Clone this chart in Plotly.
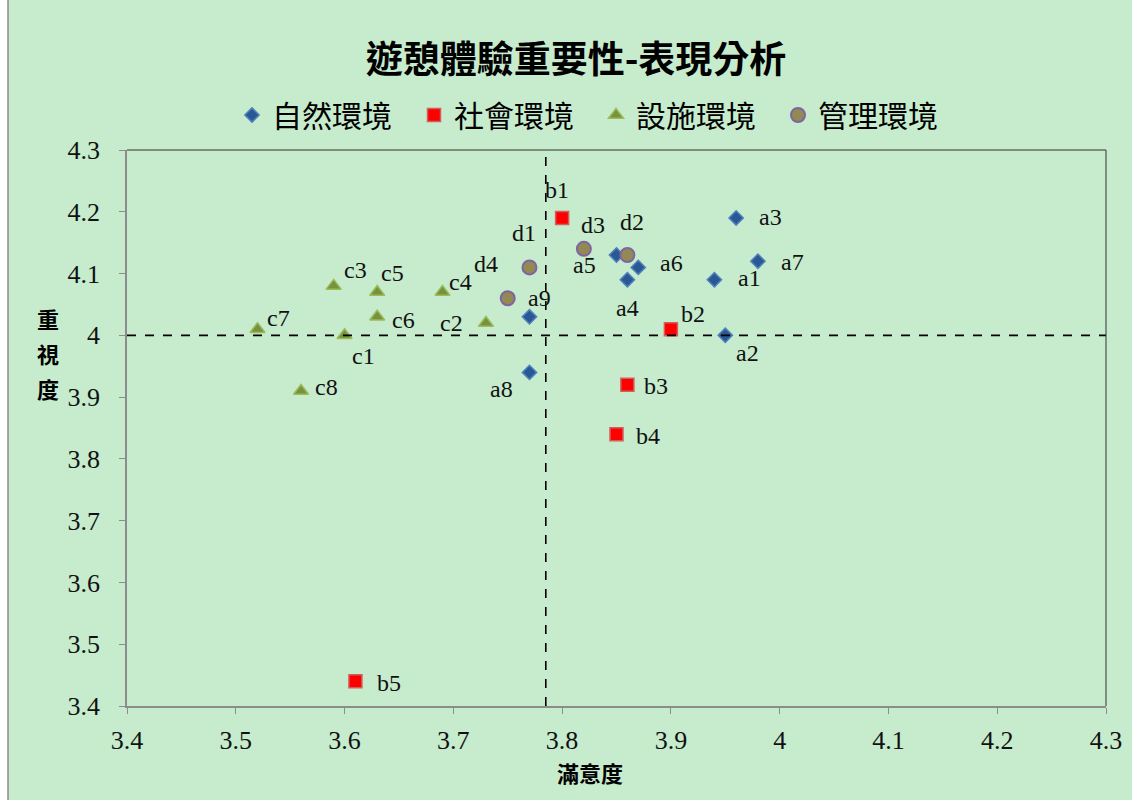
import plotly.graph_objects as go

# 滿意度 (x) / 重視度 (y) for each item, grouped by dimension
a_names = ["a1", "a2", "a3", "a4", "a5", "a6", "a7", "a8", "a9"]
a_x = [3.94, 3.95, 3.96, 3.86, 3.85, 3.87, 3.98, 3.77, 3.77]
a_y = [4.09, 4.00, 4.19, 4.09, 4.13, 4.11, 4.12, 3.94, 4.03]

b_names = ["b1", "b2", "b3", "b4", "b5"]
b_x = [3.80, 3.90, 3.86, 3.85, 3.61]
b_y = [4.19, 4.01, 3.92, 3.84, 3.44]

c_names = ["c1", "c2", "c3", "c4", "c5", "c6", "c7", "c8"]
c_x = [3.60, 3.73, 3.59, 3.69, 3.63, 3.63, 3.52, 3.56]
c_y = [4.00, 4.02, 4.08, 4.07, 4.07, 4.03, 4.01, 3.91]

d_names = ["d1", "d2", "d3", "d4"]
d_x = [3.77, 3.86, 3.82, 3.75]
d_y = [4.11, 4.13, 4.14, 4.06]

# quadrant split lines (mean satisfaction / mean importance)
mean_x = 3.785
mean_y = 4.00

tick_vals = [3.4, 3.5, 3.6, 3.7, 3.8, 3.9, 4.0, 4.1, 4.2, 4.3]
tick_text = ["3.4", "3.5", "3.6", "3.7", "3.8", "3.9", "4", "4.1", "4.2", "4.3"]

# label offsets in pixels (dx, dy with dy positive = up)
label_shift = {
    "a1": (35, 2), "a2": (22, -18), "a3": (34, 1), "a4": (0, -28),
    "a5": (-32, -10), "a6": (33, 4), "a7": (35, -1), "a8": (-28, -17),
    "a9": (10, 19),
    "b1": (-5, 28), "b2": (22, 15), "b3": (29, -1), "b4": (31, -2), "b5": (34, -2),
    "c1": (19, -21), "c2": (-34, 0), "c3": (22, 16), "c4": (18, 10),
    "c5": (15, 19), "c6": (26, -3), "c7": (21, 11), "c8": (25, 4),
    "d1": (-5, 34), "d2": (5, 33), "d3": (9, 24), "d4": (-22, 34),
}

W, H = 1132, 800
ML, MR, MT, MB = 127, 26, 150, 94
PW, PH = W - ML - MR, H - MT - MB
BG = "#C6EBCD"


def px_x(px):
    return (px - ML) / PW


def px_y(py):
    return (H - MB - py) / PH


fig = go.Figure()

series = [
    ("自然環境", a_names, a_x, a_y,
     dict(symbol="diamond", size=11, color="#2A5895", line=dict(color="#4F81BD", width=1.5))),
    ("社會環境", b_names, b_x, b_y,
     dict(symbol="square", size=13, color="#FF0000", line=dict(color="#D0605C", width=1.5))),
    ("設施環境", c_names, c_x, c_y,
     dict(symbol="triangle-up", size=13, color="#76923C", line=dict(color="#9BBB59", width=1.5))),
    ("管理環境", d_names, d_x, d_y,
     dict(symbol="circle", size=14, color="#938953", line=dict(color="#8064A2", width=2))),
]

for name, names, xs, ys, marker in series:
    fig.add_trace(go.Scatter(x=xs, y=ys, mode="markers", name=name,
                             marker=marker, hoverinfo="text", text=names))
    for n, xv, yv in zip(names, xs, ys):
        dx, dy = label_shift[n]
        fig.add_annotation(x=xv, y=yv, text=n, showarrow=False,
                           xshift=dx, yshift=dy,
                           font=dict(family="Liberation Serif", size=24, color="#111111"))

# dashed quadrant lines
fig.add_shape(type="line", x0=mean_x, x1=mean_x, y0=3.4, y1=4.3,
              xref="x", yref="y", line=dict(color="black", width=1.6, dash="dash"))
fig.add_shape(type="line", x0=3.4, x1=4.3, y0=mean_y, y1=mean_y,
              xref="x", yref="y", line=dict(color="black", width=1.6, dash="dash"))

# top and right edges of the plot area
fig.add_shape(type="line", x0=0, x1=1, y0=1, y1=1, xref="paper", yref="paper",
              line=dict(color="#333333", width=1))
fig.add_shape(type="line", x0=1, x1=1, y0=0, y1=1, xref="paper", yref="paper",
              line=dict(color="#333333", width=1))

# chart frame
fig.add_shape(type="rect", xref="paper", yref="paper", layer="below",
              x0=px_x(8), x1=px_x(W + 5), y0=px_y(H + 5), y1=px_y(-5),
              fillcolor=BG, line=dict(color="#8C8C8C", width=1.5))

# axis titles
for ch, py in zip("重視度", [318, 353, 388]):
    fig.add_annotation(xref="paper", yref="paper", x=px_x(48), y=px_y(py),
                       xanchor="center", yanchor="middle",
                       text="<b>" + ch + "</b>", showarrow=False,
                       font=dict(family="Noto Sans CJK TC", size=22, color="black"))
fig.add_annotation(xref="paper", yref="paper", x=px_x(590), y=px_y(772),
                   xanchor="center", yanchor="middle",
                   text="<b>滿意度</b>", showarrow=False,
                   font=dict(family="Noto Sans CJK TC", size=22, color="black"))

axis_common = dict(showgrid=False, zeroline=False, showline=True, linecolor="#8C8C8C",
                   linewidth=1.5, ticks="outside", ticklen=6, tickcolor="#8C8C8C",
                   tickfont=dict(family="Liberation Serif", size=26, color="#111111"))

fig.update_xaxes(range=[3.4, 4.3], tickvals=tick_vals, ticktext=tick_text,
                 ticklabelstandoff=4, **axis_common)
fig.update_yaxes(range=[3.4, 4.3], tickvals=tick_vals, ticktext=tick_text,
                 ticklabelstandoff=14, **axis_common)

fig.update_layout(
    width=W, height=H,
    margin=dict(l=ML, r=MR, t=MT, b=MB, autoexpand=False),
    paper_bgcolor="white", plot_bgcolor=BG,
    title=dict(text="<b>遊憩體驗重要性-表現分析</b>", x=576 / W, xanchor="center",
               y=1 - 60 / H, yanchor="middle",
               font=dict(family="Noto Sans CJK TC", size=37, color="black")),
    legend=dict(orientation="h", xref="container", yref="container",
                x=596 / W, xanchor="center", y=1 - 115 / H, yanchor="middle",
                font=dict(family="Noto Sans CJK TC", size=30, color="black"),
                bgcolor="rgba(0,0,0,0)", itemwidth=30,
                entrywidth=137, entrywidthmode="pixels"),
    showlegend=True,
)

fig.write_html("out.html")
